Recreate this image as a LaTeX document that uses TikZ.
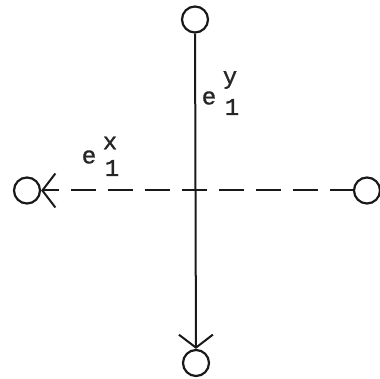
\documentclass[tikz,border=0pt]{standalone}
\usepackage{fontspec}
\newfontfamily\labfont[FakeBold=1.2]{Liberation Mono}
\usetikzlibrary{arrows.meta}
\begin{document}
\begin{tikzpicture}[x=1pt,y=1pt,
  term/.style={circle,draw=black!90,line width=2.2pt,minimum size=26pt,inner sep=0pt},
  conn/.style={draw=black!90,line width=2pt},
  lab/.style={inner sep=0pt,font=\labfont\fontsize{24}{24}\selectfont,text=black!85},
  vee/.style={-{Straight Barb[length=13pt,width=34pt,line width=2pt]}}]
\useasboundingbox (0,0) rectangle (379,379);
\node[term] (top) at (195,359.5) {};
\node[term] (bot) at (196,16) {};
\node[term] (left) at (27,188.5) {};
\node[term] (right) at (367,188.5) {};
\draw[conn,vee] (top) -- (bot);
\draw[conn,vee,dash pattern=on 25pt off 12pt,dash phase=2pt] (right) -- (left);
\node[lab] (ey) at (209,281) {e};
\node[lab] (sy) at (230,299) {y};
\node[lab] (iy) at (232,272) {1};
\node[lab] (ex) at (89,222) {e};
\node[lab] (sx) at (110,236) {x};
\node[lab] (ix) at (112,211) {1};
\end{tikzpicture}
\end{document}
